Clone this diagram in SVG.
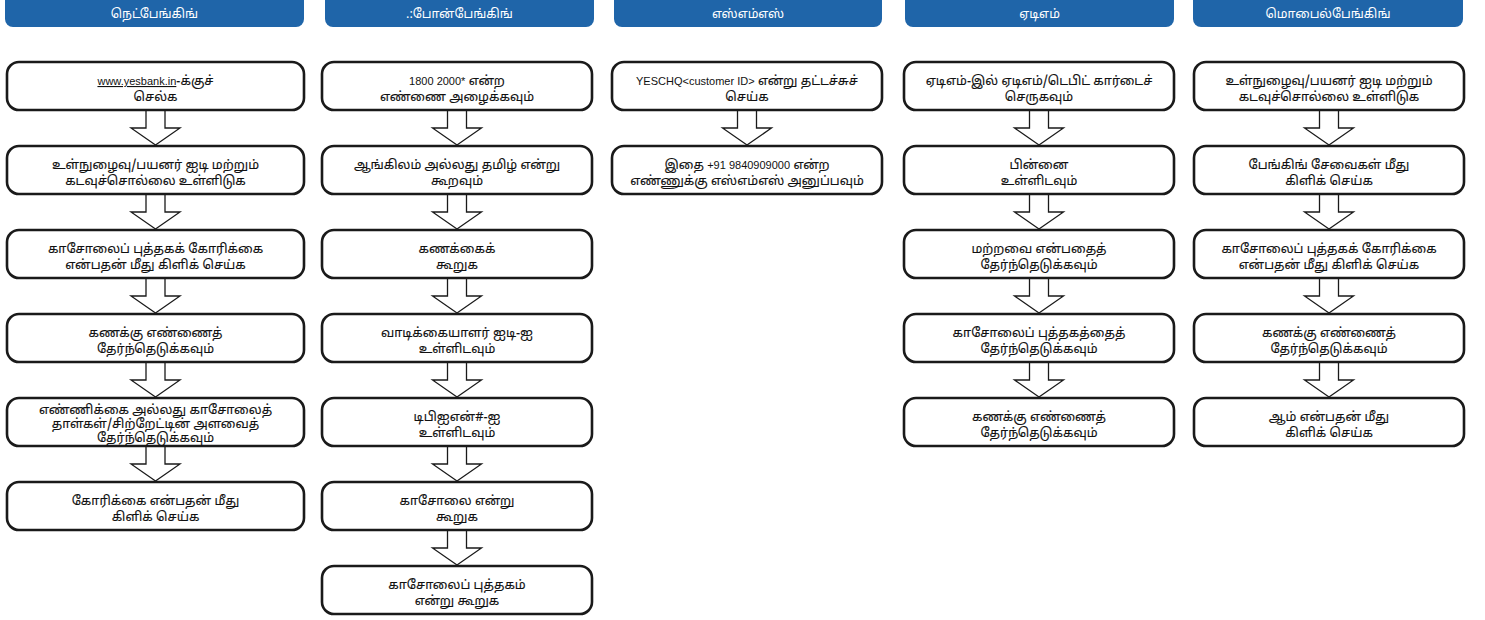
<svg xmlns="http://www.w3.org/2000/svg" width="1485" height="620" viewBox="0 0 1485 620">
<style>
.hdr{fill:#1f65a9;}
.ht{fill:#ffffff;font-family:"Noto Sans Tamil","Noto Sans","DejaVu Sans",sans-serif;font-size:12.5px;text-anchor:middle;}
.box{fill:#ffffff;stroke:#1a1a1a;stroke-width:2.6;}
.t{fill:#111111;stroke:#111111;stroke-width:0.12;font-family:"Noto Sans Tamil","Noto Sans","DejaVu Sans",sans-serif;font-size:12.7px;text-anchor:middle;}
.lat{font-family:"Liberation Sans",Arial,sans-serif;font-size:11px;stroke:none;}
.arr{fill:#ffffff;stroke:#1a1a1a;stroke-width:1.3;stroke-linejoin:miter;}
</style>
<rect width="1485" height="620" fill="#ffffff"/>

<g id="headers">
<g id="h1"><rect class="hdr" x="5" y="-10" width="299" height="37" rx="8"/><text class="ht" x="154.5" y="18">நெட்பேங்கிங்</text></g>
<g id="h2"><rect class="hdr" x="325" y="-10" width="269" height="37" rx="8"/><text class="ht" x="459.5" y="18">.:போன்பேங்கிங்</text></g>
<g id="h3"><rect class="hdr" x="614" y="-10" width="268" height="37" rx="8"/><text class="ht" x="748" y="18">எஸ்எம்எஸ்</text></g>
<g id="h4"><rect class="hdr" x="905" y="-10" width="269" height="37" rx="8"/><text class="ht" x="1039.5" y="18">ஏடிஎம்</text></g>
<g id="h5"><rect class="hdr" x="1193" y="-10" width="270" height="37" rx="8"/><text class="ht" x="1328" y="18">மொபைல்பேங்கிங்</text></g>
</g>

<g id="connectors">
<path class="arr" d="M146,111 V128 H131 L155.5,145 L180,128 H165 V111"/>
<path class="arr" d="M146,195 V212 H131 L155.5,229 L180,212 H165 V195"/>
<path class="arr" d="M146,279 V296 H131 L155.5,313 L180,296 H165 V279"/>
<path class="arr" d="M146,363 V380 H131 L155.5,397 L180,380 H165 V363"/>
<path class="arr" d="M146,447 V464 H131 L155.5,481 L180,464 H165 V447"/>
<path class="arr" d="M447.5,111 V128 H432.5 L457,145 L481.5,128 H466.5 V111"/>
<path class="arr" d="M447.5,195 V212 H432.5 L457,229 L481.5,212 H466.5 V195"/>
<path class="arr" d="M447.5,279 V296 H432.5 L457,313 L481.5,296 H466.5 V279"/>
<path class="arr" d="M447.5,363 V380 H432.5 L457,397 L481.5,380 H466.5 V363"/>
<path class="arr" d="M447.5,447 V464 H432.5 L457,481 L481.5,464 H466.5 V447"/>
<path class="arr" d="M447.5,531 V548 H432.5 L457,565 L481.5,548 H466.5 V531"/>
<path class="arr" d="M737.5,111 V128 H722.5 L747,145 L771.5,128 H756.5 V111"/>
<path class="arr" d="M1029.5,111 V128 H1014.5 L1039,145 L1063.5,128 H1048.5 V111"/>
<path class="arr" d="M1029.5,195 V212 H1014.5 L1039,229 L1063.5,212 H1048.5 V195"/>
<path class="arr" d="M1029.5,279 V296 H1014.5 L1039,313 L1063.5,296 H1048.5 V279"/>
<path class="arr" d="M1029.5,363 V380 H1014.5 L1039,397 L1063.5,380 H1048.5 V363"/>
<path class="arr" d="M1319.5,111 V128 H1304.5 L1329,145 L1353.5,128 H1338.5 V111"/>
<path class="arr" d="M1319.5,195 V212 H1304.5 L1329,229 L1353.5,212 H1338.5 V195"/>
<path class="arr" d="M1319.5,279 V296 H1304.5 L1329,313 L1353.5,296 H1338.5 V279"/>
<path class="arr" d="M1319.5,363 V380 H1304.5 L1329,397 L1353.5,380 H1338.5 V363"/>
</g>

<!-- Column 1 -->
<g id="n1_1"><rect class="box" x="7" y="62" width="297" height="48" rx="12"/><text class="t" x="155.5" y="85"><tspan class="lat" text-decoration="underline">www.yesbank.in</tspan>-க்குச்</text><text class="t" x="155.5" y="101">செல்க</text></g>
<g id="n1_2"><rect class="box" x="7" y="146" width="297" height="48" rx="12"/><text class="t" x="155.5" y="169">உள்நுழைவு/பயனர் ஐடி மற்றும்</text><text class="t" x="155.5" y="185">கடவுச்சொல்லை உள்ளிடுக</text></g>
<g id="n1_3"><rect class="box" x="7" y="230" width="297" height="48" rx="12"/><text class="t" x="155.5" y="253">காசோலைப் புத்தகக் கோரிக்கை</text><text class="t" x="155.5" y="269">என்பதன் மீது கிளிக் செய்க</text></g>
<g id="n1_4"><rect class="box" x="7" y="314" width="297" height="48" rx="12"/><text class="t" x="155.5" y="337">கணக்கு எண்ணைத்</text><text class="t" x="155.5" y="353">தேர்ந்தெடுக்கவும்</text></g>
<g id="n1_5"><rect class="box" x="7" y="398" width="297" height="48" rx="12"/><text class="t" x="155.5" y="414">எண்ணிக்கை அல்லது காசோலைத்</text><text class="t" x="155.5" y="428">தாள்கள்/சிற்றேட்டின் அளவைத்</text><text class="t" x="155.5" y="442">தேர்ந்தெடுக்கவும்</text></g>
<g id="n1_6"><rect class="box" x="7" y="482" width="297" height="48" rx="12"/><text class="t" x="155.5" y="505">கோரிக்கை என்பதன் மீது</text><text class="t" x="155.5" y="521">கிளிக் செய்க</text></g>

<!-- Column 2 -->
<g id="n2_1"><rect class="box" x="322" y="62" width="270" height="48" rx="12"/><text class="t" x="457" y="85"><tspan class="lat">1800 2000*</tspan> என்ற</text><text class="t" x="457" y="101">எண்ணை அழைக்கவும்</text></g>
<g id="n2_2"><rect class="box" x="322" y="146" width="270" height="48" rx="12"/><text class="t" x="457" y="169">ஆங்கிலம் அல்லது தமிழ் என்று</text><text class="t" x="457" y="185">கூறவும்</text></g>
<g id="n2_3"><rect class="box" x="322" y="230" width="270" height="48" rx="12"/><text class="t" x="457" y="253">கணக்கைக்</text><text class="t" x="457" y="269">கூறுக</text></g>
<g id="n2_4"><rect class="box" x="322" y="314" width="270" height="48" rx="12"/><text class="t" x="457" y="337">வாடிக்கையாளர் ஐடி-ஐ</text><text class="t" x="457" y="353">உள்ளிடவும்</text></g>
<g id="n2_5"><rect class="box" x="322" y="398" width="270" height="48" rx="12"/><text class="t" x="457" y="421">டிபிஐஎன்#-ஐ</text><text class="t" x="457" y="437">உள்ளிடவும்</text></g>
<g id="n2_6"><rect class="box" x="322" y="482" width="270" height="48" rx="12"/><text class="t" x="457" y="505">காசோலை என்று</text><text class="t" x="457" y="521">கூறுக</text></g>
<g id="n2_7"><rect class="box" x="322" y="566" width="270" height="48" rx="12"/><text class="t" x="457" y="589">காசோலைப் புத்தகம்</text><text class="t" x="457" y="605">என்று கூறுக</text></g>

<!-- Column 3 -->
<g id="n3_1"><rect class="box" x="612" y="62" width="270" height="48" rx="12"/><text class="t" x="747" y="85"><tspan class="lat">YESCHQ&lt;customer ID&gt;</tspan> என்று தட்டச்சுச்</text><text class="t" x="747" y="101">செய்க</text></g>
<g id="n3_2"><rect class="box" x="612" y="146" width="270" height="48" rx="12"/><text class="t" x="747" y="169">இதை <tspan class="lat">+91 9840909000</tspan> என்ற</text><text class="t" x="747" y="185">எண்ணுக்கு எஸ்எம்எஸ் அனுப்பவும்</text></g>

<!-- Column 4 -->
<g id="n4_1"><rect class="box" x="904" y="62" width="270" height="48" rx="12"/><text class="t" x="1039" y="85">ஏடிஎம்-இல் ஏடிஎம்/டெபிட் கார்டைச்</text><text class="t" x="1039" y="101">செருகவும்</text></g>
<g id="n4_2"><rect class="box" x="904" y="146" width="270" height="48" rx="12"/><text class="t" x="1039" y="169">பின்னை</text><text class="t" x="1039" y="185">உள்ளிடவும்</text></g>
<g id="n4_3"><rect class="box" x="904" y="230" width="270" height="48" rx="12"/><text class="t" x="1039" y="253">மற்றவை என்பதைத்</text><text class="t" x="1039" y="269">தேர்ந்தெடுக்கவும்</text></g>
<g id="n4_4"><rect class="box" x="904" y="314" width="270" height="48" rx="12"/><text class="t" x="1039" y="337">காசோலைப் புத்தகத்தைத்</text><text class="t" x="1039" y="353">தேர்ந்தெடுக்கவும்</text></g>
<g id="n4_5"><rect class="box" x="904" y="398" width="270" height="48" rx="12"/><text class="t" x="1039" y="421">கணக்கு எண்ணைத்</text><text class="t" x="1039" y="437">தேர்ந்தெடுக்கவும்</text></g>

<!-- Column 5 -->
<g id="n5_1"><rect class="box" x="1194" y="62" width="270" height="48" rx="12"/><text class="t" x="1329" y="85">உள்நுழைவு/பயனர் ஐடி மற்றும்</text><text class="t" x="1329" y="101">கடவுச்சொல்லை உள்ளிடுக</text></g>
<g id="n5_2"><rect class="box" x="1194" y="146" width="270" height="48" rx="12"/><text class="t" x="1329" y="169">பேங்கிங் சேவைகள் மீது</text><text class="t" x="1329" y="185">கிளிக் செய்க</text></g>
<g id="n5_3"><rect class="box" x="1194" y="230" width="270" height="48" rx="12"/><text class="t" x="1329" y="253">காசோலைப் புத்தகக் கோரிக்கை</text><text class="t" x="1329" y="269">என்பதன் மீது கிளிக் செய்க</text></g>
<g id="n5_4"><rect class="box" x="1194" y="314" width="270" height="48" rx="12"/><text class="t" x="1329" y="337">கணக்கு எண்ணைத்</text><text class="t" x="1329" y="353">தேர்ந்தெடுக்கவும்</text></g>
<g id="n5_5"><rect class="box" x="1194" y="398" width="270" height="48" rx="12"/><text class="t" x="1329" y="421">ஆம் என்பதன் மீது</text><text class="t" x="1329" y="437">கிளிக் செய்க</text></g>
</svg>
